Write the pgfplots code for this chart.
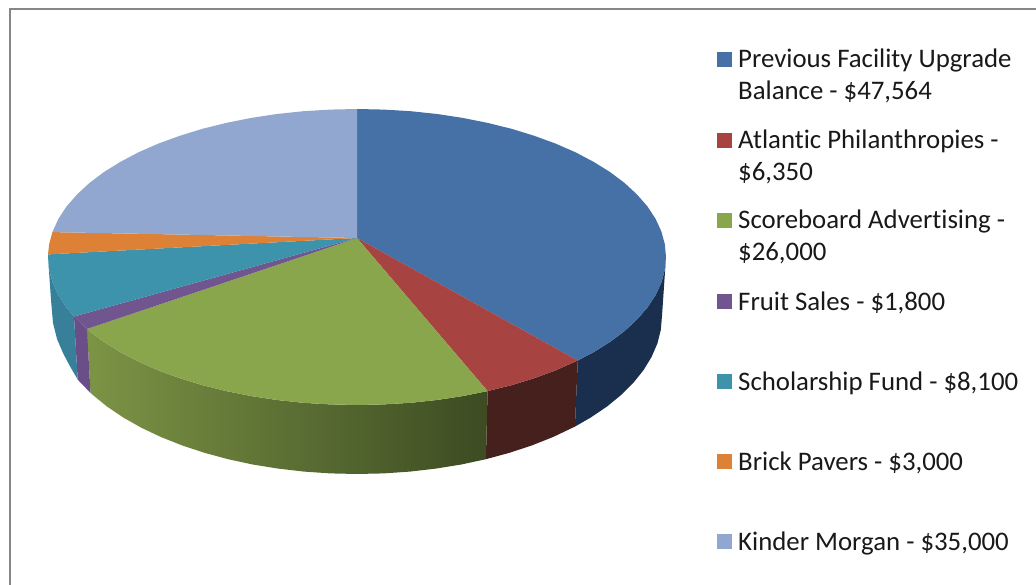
\documentclass[border=0pt]{standalone}
\usepackage{fontspec}
\setmainfont[Ligatures={NoCommon}]{Carlito}
\usepackage{pgfplots}
\pgfplotsset{compat=1.18}
\definecolor{cblue}{HTML}{4571A7}
\definecolor{cred}{HTML}{A74442}
\definecolor{cgreen}{HTML}{8AA64D}
\definecolor{cpurple}{HTML}{70558F}
\definecolor{cteal}{HTML}{3D93AC}
\definecolor{corange}{HTML}{DC8136}
\definecolor{clight}{HTML}{92A7CF}
\definecolor{sblue}{HTML}{1A2F4D}
\definecolor{sred}{HTML}{45201C}
\definecolor{spurple}{HTML}{6A4E87}
\definecolor{steal}{HTML}{38809A}
\definecolor{sgreenl}{HTML}{7C9445}
\definecolor{sgreenm}{HTML}{5F7434}
\definecolor{sgreenr}{HTML}{3C4B22}
\definecolor{frame}{HTML}{868686}
\tikzset{leg/.style={anchor=base west,inner sep=0pt,text=black!90,font=\fontsize{26.8}{30}\selectfont}}
\begin{document}
\begin{tikzpicture}
\begin{axis}[
  hide axis,scale only axis,width=1036pt,height=585pt,
  xmin=0,xmax=1036,ymin=0,ymax=585,y dir=reverse,
  every axis plot/.append style={draw=none,forget plot},
]
% page background, keeps the full box with hide axis
\addplot[fill=white] coordinates {(0,0)(1036,0)(1036,585)(0,585)};
% frame
\addplot[draw=frame,line width=2.5pt,fill=none] coordinates {(10,585)(10,9)(1036,9)};
% side walls
\addplot[fill=sblue] coordinates {(666,257)(664.8,269.9)(661.3,282.7)(655.5,295.3)(647.4,307.6)(637,319.5)(624.6,331)(610.1,341.9)(593.7,352.1)(577.8,360.5)
  (574.9,426.6)(590.6,417.6)(606.9,406.6)(621.1,395)(633.4,382.8)(643.6,370)(651.6,356.9)(657.4,343.4)(660.8,329.8)(662,316)};
\addplot[fill=sred] coordinates {(577.8,360.5)(555.6,370.4)(534.2,378.2)(511.5,385.2)(487.6,391.1)
  (485.9,459.2)(509.5,452.8)(531.9,445.4)(553.1,437)(574.9,426.6)};
\addplot[left color=sgreenl,middle color=sgreenm,right color=sgreenr] coordinates {(487.6,391.1)(462.7,396.1)(437,400)(410.6,402.8)(383.9,404.4)(357,405)(330.1,404.4)(303.4,402.8)(277,400)(251.3,396.1)(226.4,391.1)(202.5,385.2)(179.8,378.2)(158.4,370.4)(138.5,361.7)(120.3,352.1)(103.9,341.9)(89.4,331)(87,329)
  (90.5,392.8)(92.9,395)(107.1,406.6)(123.4,417.6)(141.3,427.7)(160.9,437)(182.1,445.4)(204.5,452.8)(228.1,459.2)(252.7,464.5)(278.1,468.6)(304.1,471.6)(330.4,473.4)(357,474)(383.6,473.4)(409.9,471.6)(435.9,468.6)(461.3,464.5)(485.9,459.2)};
\addplot[fill=spurple] coordinates {(87,329)(77,319.5)(74,316.5)(77.7,379.5)(80.6,382.8)(90.5,392.8)};
\addplot[fill=steal] coordinates {(74,316.5)(66.6,307.6)(58.5,295.3)(52.7,282.7)(49.2,269.9)(48,257)
  (51,300)(53,323)(57,339)(63,353)(70.4,367)(77.7,379.5)};
% top faces
\addplot[fill=cblue] coordinates {(357,238)(357,109)(383.9,109.6)(410.6,111.2)(437,114)(462.7,117.9)(487.6,122.9)(511.5,128.8)(534.2,135.8)(555.6,143.6)(575.5,152.3)(593.7,161.9)(610.1,172.1)(624.6,183)(637,194.5)(647.4,206.4)(655.5,218.7)(661.3,231.3)(664.8,244.1)(666,257)(664.8,269.9)(661.3,282.7)(655.5,295.3)(647.4,307.6)(637,319.5)(624.6,331)(610.1,341.9)(593.7,352.1)(577.8,360.5)};
\addplot[fill=cred] coordinates {(357,238)(577.8,360.5)(555.6,370.4)(534.2,378.2)(511.5,385.2)(487.6,391.1)};
\addplot[fill=cgreen] coordinates {(357,238)(487.6,391.1)(462.7,396.1)(437,400)(410.6,402.8)(383.9,404.4)(357,405)(330.1,404.4)(303.4,402.8)(277,400)(251.3,396.1)(226.4,391.1)(202.5,385.2)(179.8,378.2)(158.4,370.4)(138.5,361.7)(120.3,352.1)(103.9,341.9)(89.4,331)(87,329)};
\addplot[fill=cpurple] coordinates {(357,238)(87,329)(77,319.5)(74,316.5)};
\addplot[fill=cteal] coordinates {(357,238)(74,316.5)(66.6,307.6)(58.5,295.3)(52.7,282.7)(49.2,269.9)(48,257)(48,254.4)};
\addplot[fill=corange] coordinates {(357,238)(48,254.4)(49.2,244.1)(52.4,232.1)};
\addplot[fill=clight] coordinates {(357,238)(52.4,232.1)(58.5,218.7)(66.6,206.4)(77,194.5)(89.4,183)(103.9,172.1)(120.3,161.9)(138.5,152.3)(158.4,143.6)(179.8,135.8)(202.5,128.8)(226.4,122.9)(251.3,117.9)(277,114)(303.4,111.2)(330.1,109.6)(357,109)};
% legend keys
\addplot[fill=cblue] coordinates {(717,52)(732,52)(732,67)(717,67)};
\addplot[fill=cred] coordinates {(717,133)(732,133)(732,148)(717,148)};
\addplot[fill=cgreen] coordinates {(717,213)(732,213)(732,228)(717,228)};
\addplot[fill=cpurple] coordinates {(717,294)(732,294)(732,309)(717,309)};
\addplot[fill=cteal] coordinates {(717,374)(732,374)(732,389)(717,389)};
\addplot[fill=corange] coordinates {(717,454)(732,454)(732,469)(717,469)};
\addplot[fill=clight] coordinates {(717,534)(732,534)(732,549)(717,549)};
% legend text
\node[leg] at (axis cs:738,68) {Previous Facility Upgrade};
\node[leg] at (axis cs:738,100) {Balance - \$47,564};
\node[leg] at (axis cs:738,149) {Atlantic Philanthropies -};
\node[leg] at (axis cs:738,181) {\$6,350};
\node[leg] at (axis cs:738,229) {Scoreboard Advertising -};
\node[leg] at (axis cs:738,261) {\$26,000};
\node[leg] at (axis cs:738,310) {Fruit Sales - \$1,800};
\node[leg] at (axis cs:738,390) {Scholarship Fund - \$8,100};
\node[leg] at (axis cs:738,470) {Brick Pavers - \$3,000};
\node[leg] at (axis cs:738,550) {Kinder Morgan - \$35,000};
\end{axis}
\end{tikzpicture}
\end{document}
